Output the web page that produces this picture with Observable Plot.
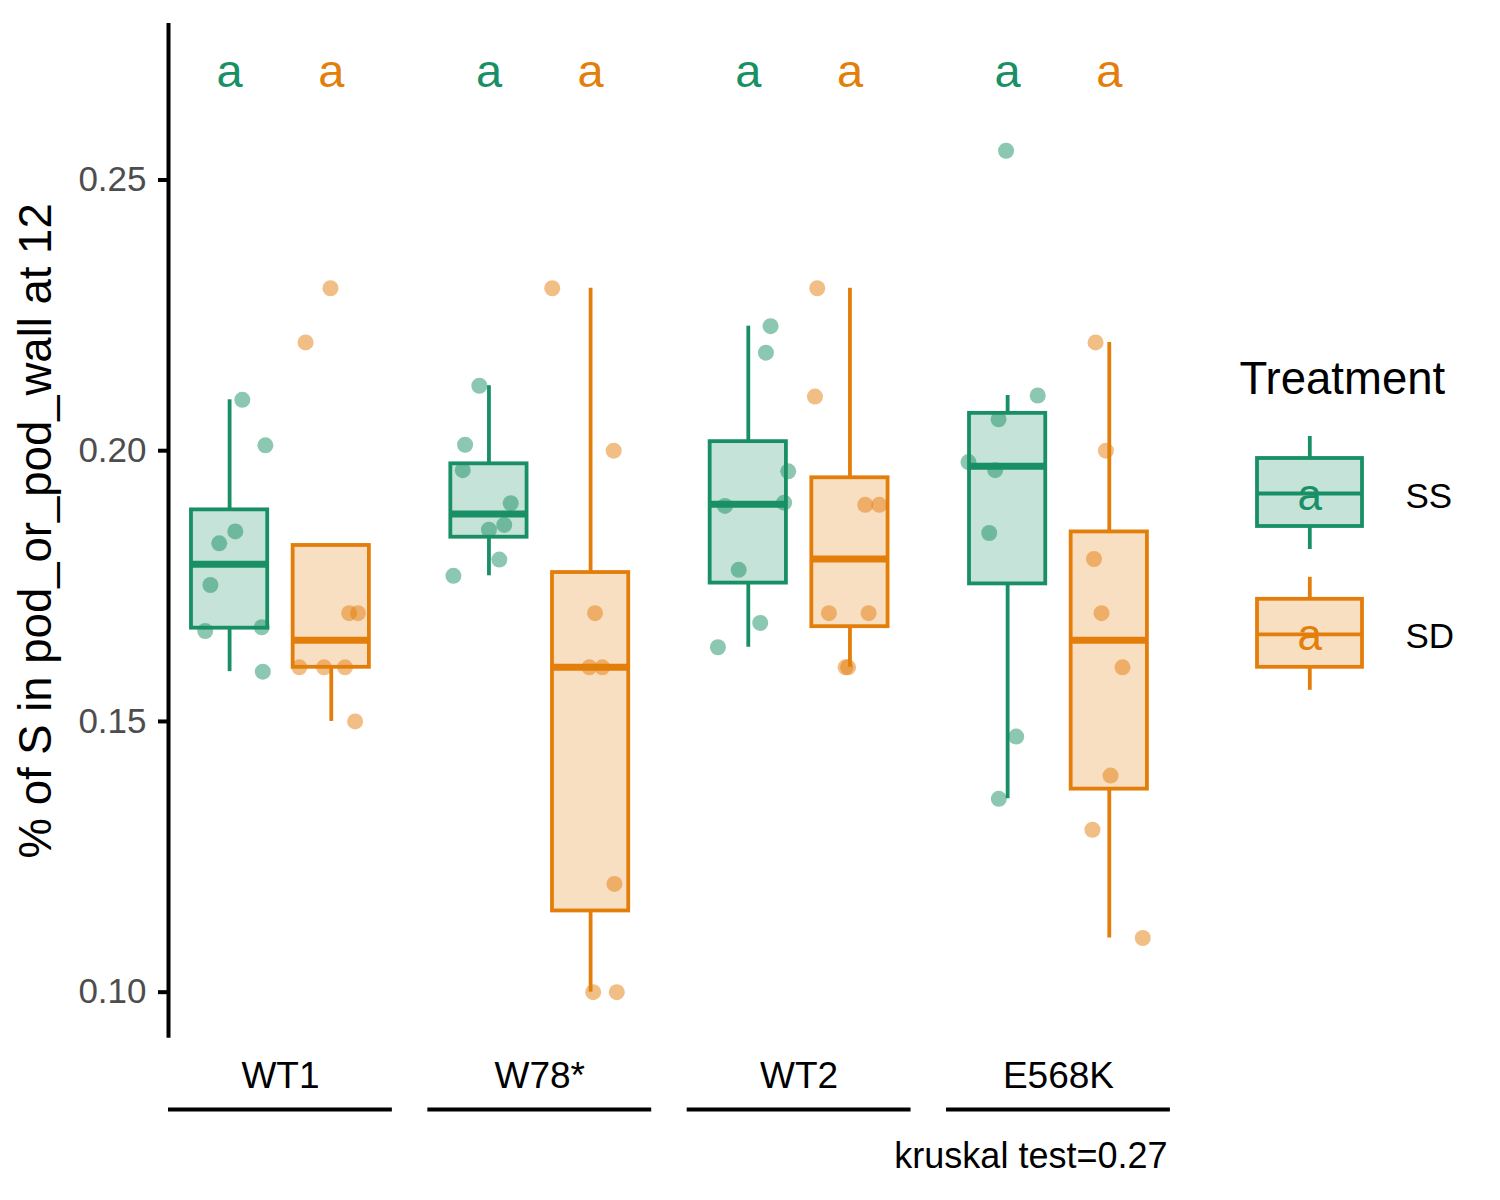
<!DOCTYPE html>
<html><head><meta charset="utf-8">
<script src="https://cdn.jsdelivr.net/npm/d3@7"></script>
<script src="https://cdn.jsdelivr.net/npm/@observablehq/plot@0.6"></script>
<style>
body{margin:0;background:#fff;overflow:hidden}
#wrap{position:relative;width:1500px;height:1200px;background:#fff}
#wrap svg{position:absolute;overflow:visible}
</style></head><body><div id="wrap"></div>
<script>
// ---------- data ----------
const groups = ["WT1", "W78*", "WT2", "E568K"];
const treatments = ["SS", "SD"];
const ssValues = [
  [0.2094, 0.2010, 0.1851, 0.1829, 0.1752, 0.1674, 0.1667, 0.1592],
  [0.2120, 0.2011, 0.1964, 0.1903, 0.1863, 0.1854, 0.1799, 0.1769],
  [0.2230, 0.2181, 0.1962, 0.1898, 0.1904, 0.1780, 0.1682, 0.1637],
  [0.2554, 0.2102, 0.2058, 0.1979, 0.1964, 0.1848, 0.1472, 0.1357]
];
const sdValues = [
  [0.23, 0.22, 0.17, 0.17, 0.16, 0.16, 0.16, 0.15],
  [0.23, 0.20, 0.17, 0.16, 0.16, 0.12, 0.10, 0.10],
  [0.23, 0.21, 0.19, 0.19, 0.17, 0.17, 0.16, 0.16],
  [0.22, 0.20, 0.18, 0.17, 0.16, 0.14, 0.13, 0.11]
];
// horizontal jitter (in group units)
const ssJitter = [
  [0.049, 0.138, 0.022, -0.040, -0.074, 0.124, -0.094, 0.128],
  [-0.037, -0.092, -0.101, 0.084, 0.059, 0.000, 0.040, -0.137],
  [0.086, 0.068, 0.154, -0.090, 0.138, -0.037, 0.046, -0.117],
  [-0.006, 0.116, -0.035, -0.151, -0.048, -0.071, 0.033, -0.034]
];
const sdJitter = [
  [-0.003, -0.099, 0.069, 0.103, -0.123, -0.028, 0.053, 0.092],
  [-0.148, 0.089, 0.017, -0.005, 0.045, 0.092, 0.010, 0.101],
  [-0.126, -0.135, 0.059, 0.113, -0.081, 0.072, -0.017, -0.007],
  [-0.053, -0.013, -0.059, -0.030, 0.051, 0.005, -0.065, 0.129]
];
const ssLetters = ["a", "a", "a", "a"];
const sdLetters = ["a", "a", "a", "a"];
const letterY = 0.27;
const yTicks = [0.10, 0.15, 0.20, 0.25];
const yTitle = "% of S in pod_or_pod_wall at 12";
const legendTitle = "Treatment";
const caption = "kruskal test=0.27";

// ---------- styling ----------
const FONT = "'Liberation Sans', Arial, Helvetica, sans-serif";
const colors = ["#188F64", "#E37E0B"];
const dodge = 0.196, halfBox = 0.147;
const xDomain = [-0.4316, 3.432];
const yDomain = [0.0915, 0.2789];

// ---------- derived tables ----------
const points = [], boxes = [], labels = [];
groups.forEach((g, i) => {
  treatments.forEach((t, k) => {
    const vals = (k === 0 ? ssValues : sdValues)[i];
    const jit = (k === 0 ? ssJitter : sdJitter)[i];
    const cx = i + (k === 0 ? -dodge : dodge);
    vals.forEach((v, j) => points.push({group: g, treatment: t, x: cx + jit[j], y: v}));
    const s = vals.slice().sort(d3.ascending);
    const q1 = d3.quantile(s, 0.25), med = d3.quantile(s, 0.5), q3 = d3.quantile(s, 0.75);
    const iqr = q3 - q1;
    const lo = Math.min(q1, d3.min(s.filter(v => v >= q1 - 1.5 * iqr)));
    const hi = Math.max(q3, d3.max(s.filter(v => v <= q3 + 1.5 * iqr)));
    boxes.push({group: g, treatment: t, cx, x1: cx - halfBox, x2: cx + halfBox, q1, med, q3, lo, hi});
    labels.push({treatment: t, x: cx, letter: (k === 0 ? ssLetters : sdLetters)[i]});
  });
});

const main = Plot.plot({
  width: 1500, height: 1200,
  marginLeft: 168, marginRight: 330, marginTop: 23, marginBottom: 162.3,
  x: {domain: xDomain, axis: null},
  y: {domain: yDomain, axis: null},
  color: {domain: treatments, range: colors},
  style: {fontFamily: FONT, background: "transparent"},
  marks: [
    Plot.ruleX(boxes, {x: "cx", y1: "lo", y2: "q1", stroke: "treatment", strokeWidth: 3.8}),
    Plot.ruleX(boxes, {x: "cx", y1: "q3", y2: "hi", stroke: "treatment", strokeWidth: 3.8}),
    Plot.rect(boxes, {x1: "x1", x2: "x2", y1: "q1", y2: "q3", fill: "treatment", fillOpacity: 0.25, stroke: "treatment", strokeWidth: 3.8}),
    Plot.ruleY(boxes, {y: "med", x1: "x1", x2: "x2", stroke: "treatment", strokeWidth: 7}),
    Plot.dot(points, {x: "x", y: "y", r: 8, fill: "treatment", fillOpacity: 0.5, stroke: null}),
    Plot.text(labels, {x: "x", y: () => letterY, text: "letter", fill: "treatment", fontSize: 47, lineAnchor: "middle"}),
    Plot.ruleX([xDomain[0]], {y1: yDomain[0], y2: yDomain[1], stroke: "black", strokeWidth: 4}),
    Plot.axisY(yTicks, {tickFormat: d3.format(".2f"), tickSize: 10, tickPadding: 12, fontSize: 35, fill: "#4D4D4D", stroke: "black", strokeWidth: 4, label: null}),
    Plot.text(groups, {x: (d, i) => i, y: () => yDomain[0], dy: 50, text: d => d, fontSize: 37, lineAnchor: "bottom", fill: "black"}),
    Plot.ruleY(groups, {x1: (d, i) => i - 0.4316, x2: (d, i) => i + 0.4316, y: () => yDomain[0], dy: 71.3, stroke: "black", strokeWidth: 4}),
    Plot.text([yTitle], {frameAnchor: "left", dx: -118, rotate: -90, text: d => d, fontSize: 45.5, textAnchor: "middle", lineAnchor: "bottom", fill: "black"}),
    Plot.text([caption], {x: () => xDomain[1], y: () => yDomain[0], dx: -3, dy: 130, text: d => d, textAnchor: "end", lineAnchor: "bottom", fontSize: 36, fill: "black"})
  ]
});
main.style.left = "0px"; main.style.top = "0px";

// ---------- legend ----------
const legItems = treatments.map((t, k) => ({
  treatment: t, k, letter: (k === 0 ? ssLetters : sdLetters)[0]
}));
const step = 140.8;
const legend = Plot.plot({
  width: 260, height: 360, margin: 0,
  x: {domain: [0, 260], range: [0, 260], axis: null},
  y: {domain: [0, 360], range: [0, 360], axis: null},
  color: {domain: treatments, range: colors},
  style: {fontFamily: FONT, background: "transparent"},
  marks: [
    Plot.text([legendTitle], {x: () => 19, y: () => 43, text: d => d, fontSize: 45.5, textAnchor: "start", lineAnchor: "bottom", fill: "black"}),
    Plot.ruleX(legItems, {x: () => 89.3, y1: d => 86 + step * d.k, y2: d => 108 + step * d.k, stroke: "treatment", strokeWidth: 3.8}),
    Plot.ruleX(legItems, {x: () => 89.3, y1: d => 176 + step * d.k, y2: d => 199 + step * d.k, stroke: "treatment", strokeWidth: 3.8}),
    Plot.rect(legItems, {x1: () => 37, x2: () => 142, y1: d => 108 + step * d.k, y2: d => 176 + step * d.k, fill: "treatment", fillOpacity: 0.25, stroke: "treatment", strokeWidth: 3.8}),
    Plot.ruleY(legItems, {y: d => 143 + step * d.k, x1: () => 37, x2: () => 142, stroke: "treatment", strokeWidth: 3.8}),
    Plot.text(legItems, {x: () => 89.3, y: d => 145 + step * d.k, text: "letter", fill: "treatment", fontSize: 44, lineAnchor: "middle"}),
    Plot.text(legItems, {x: () => 185, y: d => 157 + step * d.k, text: "treatment", fontSize: 35, textAnchor: "start", lineAnchor: "bottom", fill: "black"})
  ]
});
legend.style.left = "1220px"; legend.style.top = "350px";

const wrap = document.getElementById("wrap");
wrap.appendChild(main);
wrap.appendChild(legend);
</script></body></html>
